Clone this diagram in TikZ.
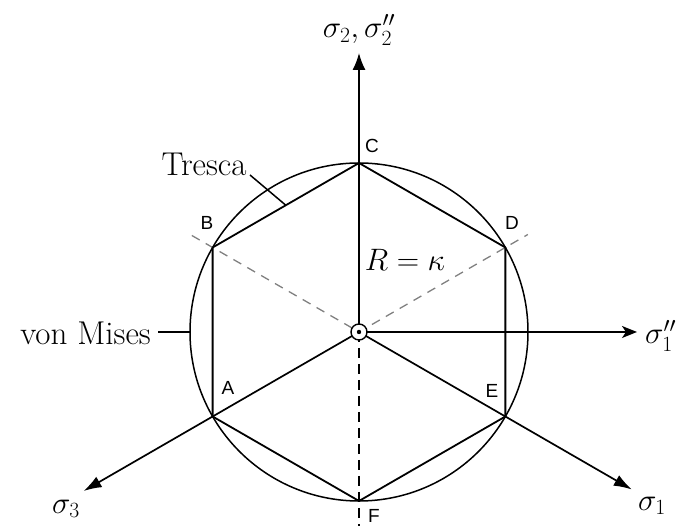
\RequirePackage{fix-cm}
\documentclass[tikz,border=0pt]{standalone}
\usepackage{fontspec}
\newfontfamily\lettersf{Liberation Sans}
\usetikzlibrary{arrows.meta,calc}
\tikzset{
  axis/.style={line width=1.7pt,-{Latex[length=18pt,width=12pt]}},
  hexline/.style={line width=1.8pt,line join=round},
  vlab/.style={font=\lettersf\fontsize{19}{21}\selectfont,inner sep=0pt},
  tlab/.style={font=\fontsize{33}{38}\selectfont,inner sep=0pt},
  mlab/.style={font=\fontsize{31}{36}\selectfont,inner sep=0pt},
  leader/.style={line width=1.5pt},
  gdash/.style={line width=1.3pt,gray,dash pattern=on 9pt off 7pt},
  kdash/.style={line width=1.7pt,dash pattern=on 10pt off 6pt}
}
\begin{document}
\begin{tikzpicture}[x=1pt,y=1pt]
\useasboundingbox (0,0) rectangle (681,526);
\coordinate (O) at (359,194);
\coordinate (C) at ($(O)+(90:169)$);
\coordinate (B) at ($(O)+(150:169)$);
\coordinate (A) at ($(O)+(210:169)$);
\coordinate (F) at ($(O)+(270:169)$);
\coordinate (E) at ($(O)+(330:169)$);
\coordinate (D) at ($(O)+(30:169)$);
\coordinate (gB) at ($(O)+(150:193)$);
\coordinate (gD) at ($(O)+(30:195)$);
\coordinate (ybot) at (359,0);
\coordinate (ytop) at (359,473);
\coordinate (xend) at (637,194);
\coordinate (s1) at ($(O)+(-30:315)$);
\coordinate (s3) at ($(O)+(210:318)$);
\coordinate (vm) at ($(O)+(180:169)$);
\coordinate (tr) at ($(C)!0.5!(B)$);
% circle
\draw[line width=1.5pt] (O) circle (169);
% dashed
\draw[gdash] (gB) -- (O) -- (gD);
\draw[kdash] (O) -- (ybot);
% hexagon
\draw[hexline] (C) -- (B) -- (A) -- (F) -- (E) -- (D) -- cycle;
% axes
\draw[line width=1.7pt,-{Latex[length=17pt,width=13pt]}] (O) -- (ytop);
\draw[line width=1.7pt,-{Stealth[length=15pt,width=12pt,inset=4pt]}] (O) -- (xend);
\draw[axis] (O) -- (s1);
\draw[axis] (O) -- (s3);
% center marker
\draw[line width=1.4pt,fill=white] (O) circle (8);
\fill (O) circle (2.2);
% labels
\node[mlab] (l2) at (359,496) {$\sigma_2,\sigma_2''$};
\node[mlab,anchor=west] (l1p) at (645,190) {$\sigma_1''$};
\node[mlab] (l3) at (66,17) {$\sigma_3$};
\node[mlab] (l1) at (652,20) {$\sigma_1$};
\node[mlab] (R) at (405,266) {$R=\kappa$};
\node[tlab] (tresca) at (204,362) {Tresca};
\node[tlab,anchor=east] (vonmises) at (151,193) {von Mises};
\draw[leader] (250,351) -- (tr);
\draw[leader] (158,194) -- (vm);
% vertex letters
\node[vlab] (lC) at (372,380) {C};
\node[vlab] (lB) at (207,303) {B};
\node[vlab] (lD) at (512,303) {D};
\node[vlab] (lA) at (228,138) {A};
\node[vlab] (lE) at (492,135) {E};
\node[vlab,anchor=south] (lF) at (374,3) {F};
\end{tikzpicture}
\end{document}
